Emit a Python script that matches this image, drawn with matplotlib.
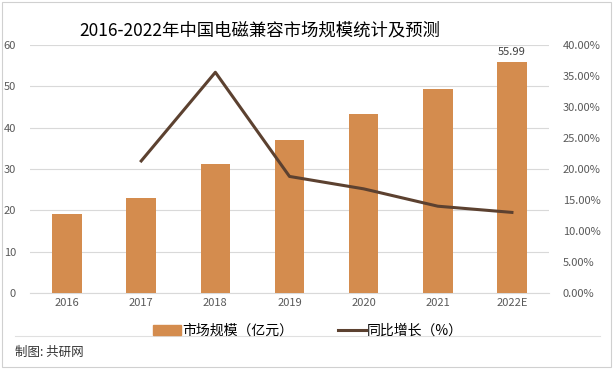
import numpy as np
import matplotlib.pyplot as plt
from matplotlib.lines import Line2D

plt.rcParams['font.family'] = ['Noto Sans CJK SC', 'DejaVu Sans']

years = ['2016', '2017', '2018', '2019', '2020', '2021', '2022E']
market = [19.0, 23.0, 31.2, 37.0, 43.3, 49.4, 55.99]
growth = [np.nan, 21.3, 35.6, 18.8, 16.8, 14.0, 13.0]

bar_color = '#D48C4E'
line_color = '#5C4130'

fig = plt.figure(figsize=(6.13, 3.69), dpi=100)
ax = fig.add_axes([30 / 613, 1 - 293 / 369, 519 / 613, 248 / 369])
x = np.arange(len(years))
ax.bar(x, market, width=0.4, color=bar_color, zorder=3)
ax.set_xlim(-0.5, len(years) - 0.5)
ax.set_ylim(0, 60)
ax.set_yticks(range(0, 61, 10))
ax.grid(axis='y', color='#d9d9d9', linewidth=0.8, zorder=0)
for s in ['top', 'right', 'left']:
    ax.spines[s].set_visible(False)
ax.spines['bottom'].set_color('#d9d9d9')
ax.tick_params(length=0, labelsize=8, colors='#595959')
ax.set_xticks(x)
ax.set_xticklabels(years)
ax.tick_params(axis='y', pad=10)
ax.text(x[-1], market[-1] + 1.0, '55.99', ha='center', va='bottom', fontsize=8, color='#404040')

ax2 = ax.twinx()
ax2.plot(x, growth, color=line_color, linewidth=2.2, zorder=4)
ax2.set_ylim(0, 40)
ax2.set_yticks(range(0, 41, 5))
ax2.set_yticklabels(['{:.2f}%'.format(v) for v in range(0, 41, 5)])
for s in ['top', 'right', 'left', 'bottom']:
    ax2.spines[s].set_visible(False)
ax2.tick_params(length=0, labelsize=8, colors='#595959', pad=10)

handles = [plt.Rectangle((0, 0), 1, 1, color=bar_color),
           Line2D([0], [0], color=line_color, linewidth=2.2)]
fig.legend(handles, ['市场规模（亿元）', '同比增长（%）'], loc='center',
           bbox_to_anchor=(308 / 613, 1 - 331 / 369), ncol=2, frameon=False,
           fontsize=10, handlelength=2.0, columnspacing=3.2, handletextpad=0.1)

fig.text(260 / 613, 1 - 30 / 369, '2016-2022年中国电磁兼容市场规模统计及预测', ha='center', va='center',
         fontsize=12.5, color='#000000')
fig.text(15 / 613, 1 - 352 / 369, '制图: 共研网', ha='left', va='center', fontsize=9, color='#333333')

fig.add_artist(Line2D([15 / 613, 600 / 613], [1 - 336 / 369, 1 - 336 / 369], color='#e0e0e0', linewidth=0.8))
fig.add_artist(plt.Rectangle((2 / 613, 2 / 369), 609 / 613, 365 / 369, fill=False,
                             edgecolor='#d0d0d0', linewidth=0.8, transform=fig.transFigure))

fig.savefig('out.png', dpi=100)
